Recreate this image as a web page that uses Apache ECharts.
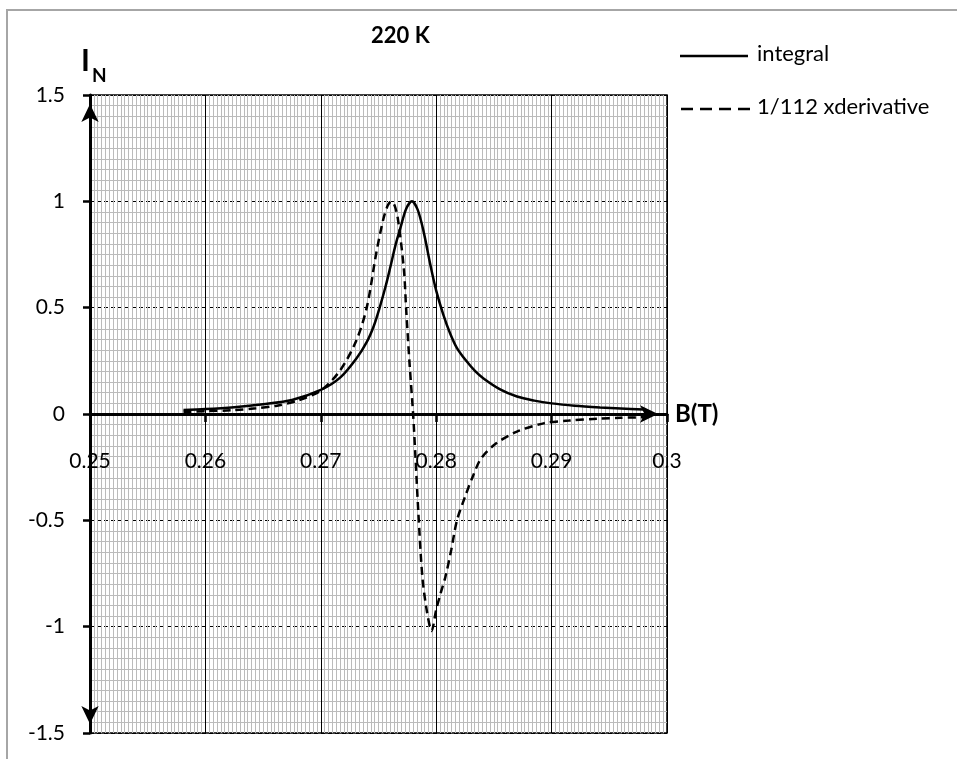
<!DOCTYPE html>
<html lang="en">
<head>
    <meta charset="UTF-8">
    <title>220 K</title>
    <style>
        html, body { margin: 0; padding: 0; background: #fff; }
        #chart { width: 957px; height: 759px; }
    </style>
</head>
<body>
<div id="chart"></div>
<script src="https://cdn.jsdelivr.net/npm/echarts@6/dist/echarts.min.js"></script>
<script type="text/javascript">
    // integral curve
    var bInt = [0.2581, 0.2600, 0.2625, 0.2650, 0.2675, 0.2700, 0.2717, 0.2731, 0.2740, 0.2746,
        0.2751, 0.2756, 0.2760, 0.2765, 0.2769, 0.2774, 0.2779, 0.2784, 0.2789, 0.2795,
        0.2800, 0.2806, 0.2812, 0.2818, 0.2826, 0.2834, 0.2841, 0.2855, 0.2870, 0.2885,
        0.2900, 0.2920, 0.2942, 0.2960, 0.2980];
    var vInt = [0.019, 0.023, 0.032, 0.046, 0.066, 0.113, 0.172, 0.262, 0.340, 0.415,
        0.500, 0.597, 0.685, 0.800, 0.875, 0.965, 1.000, 0.960, 0.860, 0.700,
        0.580, 0.470, 0.380, 0.310, 0.250, 0.200, 0.167, 0.117, 0.082, 0.063,
        0.050, 0.039, 0.031, 0.026, 0.021];

    // 1/112 x derivative curve
    var bDer = [0.2581, 0.2600, 0.2624, 0.2644, 0.2662, 0.2680, 0.2700, 0.2717, 0.2731, 0.2740,
        0.2748, 0.2754, 0.2758, 0.2761, 0.2764, 0.2767, 0.2772, 0.2774, 0.2777, 0.2780,
        0.2782, 0.27845, 0.2788, 0.2792, 0.2796, 0.2800, 0.2804, 0.2808, 0.2813, 0.2818,
        0.2825, 0.2832, 0.2839, 0.2852, 0.2870, 0.2893, 0.2915, 0.2940, 0.2960, 0.2980];
    var vDer = [0.010, 0.013, 0.018, 0.027, 0.039, 0.063, 0.110, 0.207, 0.348, 0.505,
        0.755, 0.912, 0.980, 1.000, 0.980, 0.910, 0.680, 0.490, 0.230, 0.000,
        -0.200, -0.460, -0.765, -0.930, -1.020, -0.920, -0.840, -0.765, -0.640, -0.500,
        -0.389, -0.290, -0.208, -0.138, -0.083, -0.044, -0.031, -0.022, -0.018, -0.015];

    var seriesNames = ['integral', '1/112 xderivative'];

    function pairs(xs, ys) {
        var out = [];
        for (var i = 0; i < xs.length; i++) {
            out.push([xs[i], ys[i]]);
        }
        return out;
    }

    var font = 'Lato, "Noto Sans", sans-serif';
    var gridTop = 95, gridBottom = 26, plotH = 759 - gridTop - gridBottom;
    var chart = echarts.init(document.getElementById('chart'));

    var option = {
        backgroundColor: '#fff',
        animation: false,
        title: {
            text: '220 K',
            left: 366,
            top: 20,
            textStyle: { fontFamily: font, fontSize: 22, fontWeight: 'bold', color: '#000' }
        },
        grid: {
            left: 90, right: 290, top: gridTop, bottom: gridBottom,
            containLabel: false, outerBoundsMode: 'none',
            show: true, borderColor: '#000', borderWidth: 1.5
        },
        xAxis: {
            type: 'value',
            min: 0.25,
            max: 0.3,
            interval: 0.01,
            position: 'bottom',
            offset: -plotH / 2,     // axis sits on y = 0
            name: 'B(T)',
            nameLocation: 'end',
            nameGap: 8,
            nameTextStyle: { fontFamily: font, fontSize: 24, fontWeight: 'bold', color: '#000' },
            axisLine: {
                onZero: false,
                lineStyle: { color: '#000', width: 3 },
                symbol: ['none', 'arrow'],
                symbolSize: [13, 18],
                symbolOffset: [0, -9]
            },
            axisTick: { show: true, length: 8, lineStyle: { color: '#000', width: 2.5 } },
            axisLabel: { margin: 37, fontFamily: font, fontSize: 21, color: '#000' },
            splitLine: { show: true, lineStyle: { color: '#000', width: 1 } },
            minorTick: { show: false, splitNumber: 30 },
            minorSplitLine: { show: true, lineStyle: { color: '#bbbbbb', width: 1 } }
        },
        yAxis: {
            type: 'value',
            min: -1.5,
            max: 1.5,
            interval: 0.5,
            axisLine: {
                show: true,
                lineStyle: { color: '#000', width: 3 },
                symbol: ['arrow', 'arrow'],
                symbolSize: [13, 18],
                symbolOffset: [9, -9]
            },
            axisTick: { show: true, length: 7, lineStyle: { color: '#000', width: 2.5 } },
            axisLabel: { margin: 25, fontFamily: font, fontSize: 21, color: '#000' },
            splitLine: { show: true, lineStyle: { color: '#000', width: 1, type: [4, 3] } },
            minorTick: { show: false, splitNumber: 10 },
            minorSplitLine: { show: true, lineStyle: { color: '#bbbbbb', width: 1 } }
        },
        graphic: [
            {
                type: 'rect',
                z: -10,
                silent: true,
                shape: { x: 7, y: 10, width: 990, height: 790 },
                style: { fill: 'none', stroke: '#a6a6a6', lineWidth: 2 }
            },
            {
                type: 'text',
                left: 81,
                top: 46,
                style: { text: 'I', fontFamily: font, fontSize: 30, fontWeight: 'bold', fill: '#000' }
            },
            {
                type: 'text',
                left: 92,
                top: 66,
                style: { text: 'N', fontFamily: font, fontSize: 19, fontWeight: 'bold', fill: '#000' }
            },
            // legend
            {
                type: 'line',
                shape: { x1: 680, y1: 56, x2: 748, y2: 56 },
                style: { stroke: '#000', lineWidth: 2.5 }
            },
            {
                type: 'text',
                left: 757,
                top: 43,
                style: { text: seriesNames[0], fontFamily: font, fontSize: 22, fill: '#000' }
            },
            {
                type: 'line',
                shape: { x1: 681, y1: 109, x2: 752, y2: 109 },
                style: { stroke: '#000', lineWidth: 2.5, lineDash: [12, 7] }
            },
            {
                type: 'text',
                left: 757,
                top: 96,
                style: { text: seriesNames[1], fontFamily: font, fontSize: 22, fill: '#000' }
            }
        ],
        series: [
            {
                name: seriesNames[0],
                type: 'line',
                data: pairs(bInt, vInt),
                symbol: 'none',
                smooth: 0.3,
                lineStyle: { color: '#000', width: 2.5 },
                z: 5
            },
            {
                name: seriesNames[1],
                type: 'line',
                data: pairs(bDer, vDer),
                symbol: 'none',
                smooth: 0.3,
                lineStyle: { color: '#000', width: 2.5, type: [8, 5] },
                z: 5
            }
        ]
    };

    chart.setOption(option);
</script>
</body>
</html>
